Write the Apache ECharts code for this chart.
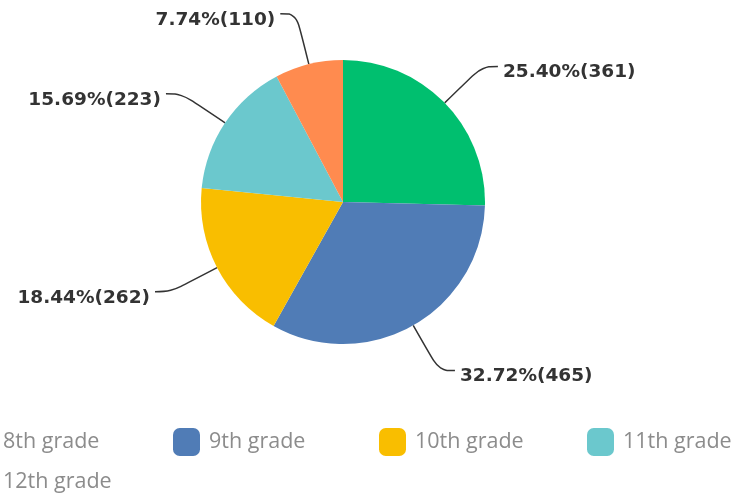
<!DOCTYPE html>
<html>
<head>
<meta charset="utf-8">
<script src="https://cdn.jsdelivr.net/npm/echarts@6/dist/echarts.min.js"></script>
<style>html,body{margin:0;padding:0;background:#fff;}#c{width:742px;height:495px;}</style>
</head>
<body>
<div id="c"></div>
<script>
var categories = ['8th grade', '9th grade', '10th grade', '11th grade', '12th grade'];
var counts = [361, 465, 262, 223, 110];
var colors = ['#00BF6F', '#507CB6', '#F9BE00', '#6BC8CD', '#FF8B4F'];

var total = counts.reduce(function (a, b) { return a + b; }, 0);

// legend slot positions (left, top) — 4 per row, wrapping
var legendLefts = [-33, 173, 379, 587, -33];
var legendTops = [428, 428, 428, 428, 468];

var legends = categories.map(function (name, i) {
  return {
    left: legendLefts[i],
    top: legendTops[i],
    padding: 0,
    itemWidth: 27,
    itemHeight: 28,
    icon: 'roundRect',
    data: [name],
    textStyle: {
      fontFamily: 'Open Sans',
      fontSize: 21.5,
      color: '#8c8c8c',
      padding: [0, 0, 0, 4]
    }
  };
});

var chart = echarts.init(document.getElementById('c'), null, {renderer: 'canvas'});
chart.setOption({
  animation: false,
  color: colors,
  legend: legends,
  series: [{
    type: 'pie',
    center: [343, 202],
    radius: 142,
    startAngle: 90,
    clockwise: true,
    data: categories.map(function (n, i) { return {name: n, value: counts[i]}; }),
    label: {
      formatter: function (p) {
        return '{t|' + (p.value / total * 100).toFixed(2) + '%(' + p.value + ')}';
      },
      rich: {
        t: {
          fontFamily: 'DejaVu Sans',
          fontWeight: 'bold',
          fontSize: 18.5,
          color: '#333333',
          padding: [12, 0, 0, 0]
        }
      }
    },
    labelLine: {
      length: 52,
      length2: 16,
      smooth: 0.4,
      lineStyle: {color: '#333333', width: 1.5}
    },
    itemStyle: {borderWidth: 0}
  }]
});
</script>
</body>
</html>
